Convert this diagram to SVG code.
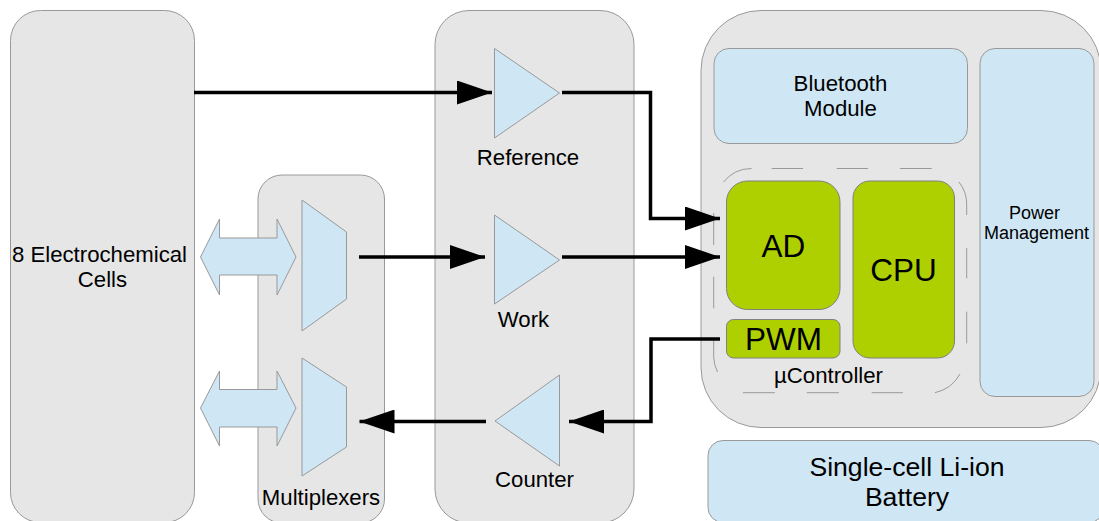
<svg xmlns="http://www.w3.org/2000/svg" width="1099" height="521" viewBox="0 0 1099 521">
<style>
.panel{fill:#e6e6e6;stroke:#999;stroke-width:1}
.blue{fill:#cfe7f5;stroke:#999;stroke-width:1}
.green{fill:#afd000;stroke:#808080;stroke-width:1}
.dash{fill:none;stroke:#999;stroke-width:1}
.wire{fill:none;stroke:#000;stroke-width:3.5}
text{font-family:"Liberation Sans",Arial,sans-serif;fill:#000;text-anchor:middle}
.t22{font-size:22.200px}
.t31{font-size:31.500px}
.t18{font-size:18px}
.t27{font-size:26.600px}
</style>
<defs>
<marker id="arrow" markerUnits="userSpaceOnUse" markerWidth="35" markerHeight="24" refX="35" refY="12" orient="auto"><path d="M0 0L35 12L0 24Z" fill="#000"/></marker>
</defs>
<g id="cells"><rect class="panel" x="10.500" y="10.500" width="184" height="512" rx="30"/><text class="t22" x="99.500" y="262">8 Electrochemical</text><text class="t22" x="102.500" y="287">Cells</text></g>
<g id="mux-panel"><rect class="panel" x="258" y="175" width="126.500" height="348" rx="24"/><text class="t22" x="321" y="505">Multiplexers</text></g>
<g id="amp-panel"><rect class="panel" x="435" y="10.500" width="199" height="512.500" rx="34"/></g>
<g id="mcu-panel"><rect class="panel" x="701" y="10.500" width="400" height="417" rx="60"/></g>
<g id="bidir-1"><path class="blue" d="M200.500 257L219.500 219V238H277V219L296 257L277 295V275H219.500V295Z"/></g>
<g id="bidir-2"><path class="blue" d="M200.500 408L219.500 371V389.500H277V371L296 408L277 446V427H219.500V446Z"/></g>
<g id="mux-1"><path class="blue" d="M302 200L346.500 232V299L302 331Z"/></g>
<g id="mux-2"><path class="blue" d="M302 358L346.500 387V447L302 476Z"/></g>
<g id="reference"><path class="blue" d="M494.500 48.500L559.500 93L494.500 138Z"/><text class="t22" x="528" y="165">Reference</text></g>
<g id="work"><path class="blue" d="M494.500 215L559.500 260L494.500 304Z"/><text class="t22" x="523.500" y="327">Work</text></g>
<g id="counter"><path class="blue" d="M559.500 375L495 421L559.500 466Z"/><text class="t22" x="534.500" y="487">Counter</text></g>
<g id="bluetooth"><rect class="blue" x="714" y="48.500" width="253.500" height="95" rx="15"/><text class="t22" x="840.500" y="91">Bluetooth</text><text class="t22" x="840.500" y="116">Module</text></g>
<g id="power"><rect class="blue" x="980" y="48.500" width="114" height="348" rx="15"/><text class="t18" x="1034.500" y="219">Power</text><text class="t18" x="1036.500" y="239">Management</text></g>
<g id="controller"><path class="dash" d="M723.500 182A36 36 0 0 1 751.500 168.500M771.700 168.500H803M836.700 168.500H868M900 168.500H931.700M959 182A36 36 0 0 1 966.700 204.500V215M966.700 248V278.300M966.700 311.700V343.300M960 374A38 38 0 0 1 935 392.700M903 392.700H871.700M839 392.700H806.700M775 392.700H743M717.500 372A36 36 0 0 1 713.700 357V340M713.700 308.300V276.700M713.700 245V213"/><text class="t22" x="828.500" y="383">µController</text></g>
<g id="ad"><rect class="green" x="726.500" y="181" width="113.500" height="128.500" rx="21"/><text class="t31" x="783.500" y="257">AD</text></g>
<g id="cpu"><rect class="green" x="853" y="181" width="101.500" height="177" rx="17"/><text class="t31" x="903.500" y="281">CPU</text></g>
<g id="pwm"><rect class="green" x="726.500" y="319.500" width="113.500" height="38.500" rx="7"/><text class="t31" x="783.500" y="350">PWM</text></g>
<g id="battery"><rect class="blue" x="708" y="440.500" width="396" height="82" rx="15"/><text class="t27" x="907" y="476">Single-cell Li-ion</text><text class="t27" x="907" y="506">Battery</text></g>
<g id="connectors">
<path class="wire" marker-end="url(#arrow)" d="M194 92.500H492"/>
<path class="wire" marker-end="url(#arrow)" d="M562 92.500H650.500V218.500H720"/>
<path class="wire" marker-end="url(#arrow)" d="M359 257H485"/>
<path class="wire" marker-end="url(#arrow)" d="M562 257H720"/>
<path class="wire" marker-end="url(#arrow)" d="M720 339H651V421.500H569"/>
<path class="wire" marker-end="url(#arrow)" d="M486 421.500H359.500"/>
</g>
</svg>
